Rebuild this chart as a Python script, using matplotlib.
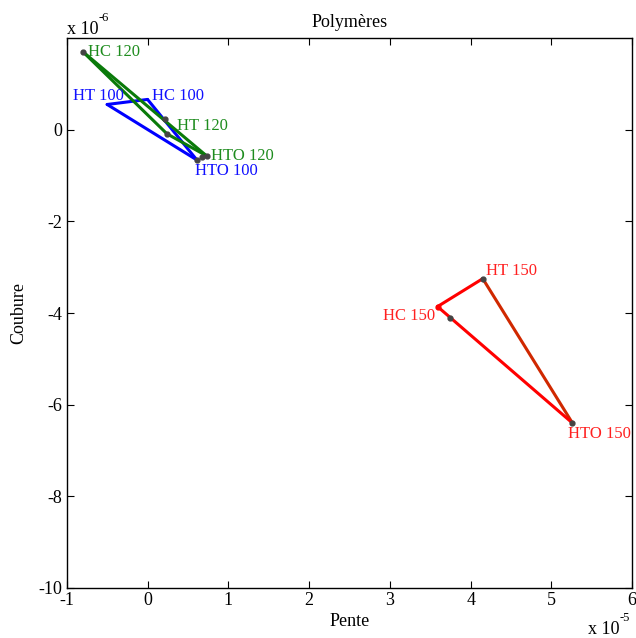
import matplotlib
matplotlib.use("Agg")
import matplotlib.pyplot as plt

# pente in units of 1e-5, courbure in units of 1e-6
labels_100 = ["HT 100", "HC 100", "HTO 100"]
pente_100 = [-0.50, 0.00, 0.61]
courb_100 = [0.55, 0.66, -0.66]

labels_120 = ["HC 120", "HT 120", "HTO 120"]
pente_120 = [-0.80, 0.24, 0.73]
courb_120 = [1.70, -0.09, -0.57]

labels_150 = ["HC 150", "HT 150", "HTO 150"]
pente_150 = [3.59, 4.15, 5.26]
courb_150 = [-3.86, -3.25, -6.40]

# extra dark points
pente_pts = [-0.80, 0.21, 0.24, 0.61, 0.68, 0.73, 3.74, 4.15, 5.26]
courb_pts = [1.70, 0.24, -0.09, -0.66, -0.59, -0.57, -4.10, -3.25, -6.40]

plt.rcParams['font.family'] = ['Liberation Serif', 'DejaVu Serif']
plt.rcParams['axes.unicode_minus'] = False

fig = plt.figure(figsize=(6.36, 6.38), dpi=100)
ax = fig.add_axes([0.105, 0.0784, 0.889, 0.862])

lw = 2.2


def triangle(xs, ys, colors):
    for i in range(3):
        j = (i + 1) % 3
        ax.plot([xs[i], xs[j]], [ys[i], ys[j]], color=colors[i], lw=lw,
                solid_capstyle='round', zorder=2)


triangle(pente_100, courb_100, ['#0000ff'] * 3)
triangle(pente_120, courb_120, ['#0a7a0a'] * 3)
triangle(pente_150, courb_150, ['#ff0000', '#d02800', '#ff0000'])

ax.plot(pente_pts, courb_pts, 'o', color='#444444', ms=3.5, zorder=3)
ax.plot(pente_150[0], courb_150[0], 'o', color='#ff0000', ms=3.5, zorder=3)

# label offsets in pixels
offsets = {
    "HT 100": (-34, 8, 'left'), "HC 100": (4, 3, 'left'), "HTO 100": (-2, -11, 'left'),
    "HC 120": (5, 0, 'left'), "HT 120": (10, 8, 'left'), "HTO 120": (4, 0, 'left'),
    "HC 150": (-2, -9, 'right'), "HT 150": (3, 8, 'left'), "HTO 150": (-4, -11, 'left'),
}
groups = [(labels_100, pente_100, courb_100, '#1010ff'),
          (labels_120, pente_120, courb_120, '#1e8c1e'),
          (labels_150, pente_150, courb_150, '#ff2020')]
for labs, xs, ys, col in groups:
    for lab, x, y in zip(labs, xs, ys):
        dx, dy, ha = offsets[lab]
        ax.annotate(lab, (x, y), xytext=(dx, dy), textcoords='offset pixels',
                    ha=ha, va='center', color=col, fontsize=12)

ax.set_xlim(-1, 6)
ax.set_ylim(-10, 2)
ax.set_xticks(range(-1, 7))
ax.set_yticks(range(-10, 1, 2))
ax.tick_params(direction='in', top=True, right=True, labelsize=13, length=5, pad=3)
for s in ax.spines.values():
    s.set_linewidth(1.0)

ax.set_title("Polymères", fontsize=13, pad=8)
ax.set_xlabel("Pente", fontsize=13, labelpad=3)
ax.set_ylabel("Coubure", fontsize=13, labelpad=8)

# axis multipliers
fig.text(67 / 636, 1 - 38 / 638, "x 10", fontsize=13, ha='left', va='bottom')
fig.text(99 / 636, 1 - 24 / 638, "-6", fontsize=9, ha='left', va='bottom')
fig.text(588 / 636, 0.0, "x 10", fontsize=13, ha='left', va='bottom')
fig.text(620 / 636, 14 / 638, "-5", fontsize=9, ha='left', va='bottom')

fig.savefig("out.png", dpi=100)
